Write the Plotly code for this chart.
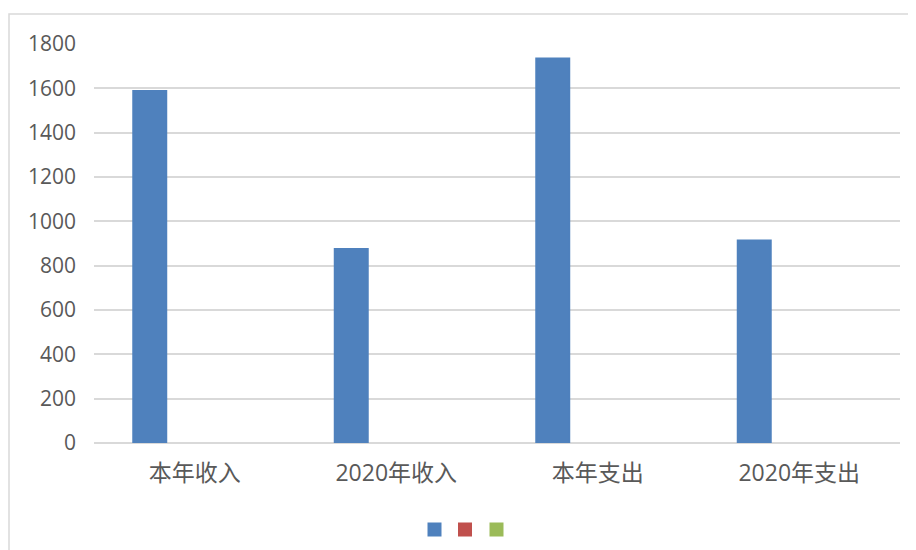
import plotly.graph_objects as go

categories = ["本年收入", "2020年收入", "本年支出", "2020年支出"]
series_1 = [1588, 875, 1735, 914]
series_2 = [None, None, None, None]
series_3 = [None, None, None, None]
y_ticks = [0, 200, 400, 600, 800, 1000, 1200, 1400, 1600, 1800]

colors = ["#4f81bd", "#c0504d", "#9bbb59"]
text_color = "#595959"
grid_color = "#d9d9d9"

fig = go.Figure()
legend_ids = ["legend", "legend2", "legend3"]
for vals, col, nm, lg in zip([series_1, series_2, series_3], colors, [" ", "  ", "   "], legend_ids):
    fig.add_trace(go.Bar(x=categories, y=vals, name=nm, legend=lg,
                         marker=dict(color=col, line=dict(width=2, color=col))))

# page body adds an 8px offset; figure is sized to fill the remaining window
W, H = 908, 542
ml, mr, mt, mb = 86, 16, 36, 107
pw, ph = W - ml - mr, H - mt - mb

legend_lefts = [406.5, 437, 468.5]
legend_common = dict(orientation="h", xanchor="left", y=(435 - 522) / ph, yanchor="middle",
                     font=dict(size=14), bgcolor="rgba(0,0,0,0)")

fig.update_layout(
    width=W, height=H,
    margin=dict(l=ml, r=mr, t=mt, b=mb, autoexpand=False),
    paper_bgcolor="white", plot_bgcolor="white",
    barmode="group", bargap=0.33, bargroupgap=0.267,
    font=dict(family="Open Sans, Noto Sans CJK SC, sans-serif", color=text_color, size=20),
    showlegend=True,
    legend=dict(x=(legend_lefts[0] - ml) / pw, **legend_common),
    legend2=dict(x=(legend_lefts[1] - ml) / pw, **legend_common),
    legend3=dict(x=(legend_lefts[2] - ml) / pw, **legend_common),
    xaxis=dict(showline=False, ticks="", showgrid=False,
               tickfont=dict(size=23, family="Open Sans, Noto Sans CJK SC, sans-serif", color=text_color),
               ticklabelstandoff=14),
    yaxis=dict(range=[0, 1800], tickvals=y_ticks, showgrid=True, gridcolor=grid_color, gridwidth=1.5,
               zeroline=True, zerolinecolor=grid_color, zerolinewidth=1.5, showline=False, ticks="",
               tickfont=dict(size=21, color=text_color), ticklabelstandoff=17),
    shapes=[dict(type="rect", xref="paper", yref="paper",
                 x0=(1 - ml) / pw, x1=(930 - ml) / pw,
                 y0=(435 - 560) / ph, y1=(435 - 6) / ph,
                 line=dict(color=grid_color, width=1.5), fillcolor="rgba(0,0,0,0)", layer="below")],
)

fig.write_html("out.html")
